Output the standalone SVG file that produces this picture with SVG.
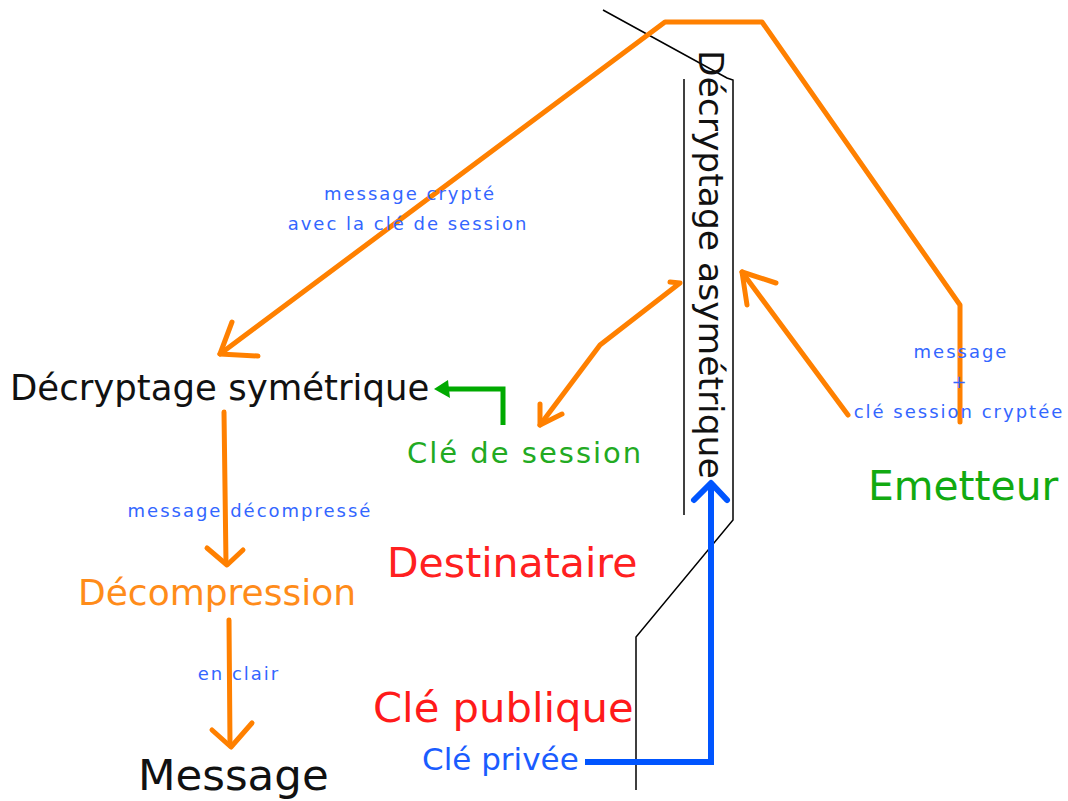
<svg xmlns="http://www.w3.org/2000/svg" width="1068" height="801" viewBox="0 0 1068 801">
<style>
.o{fill:none;stroke:#ff8000;stroke-width:5;stroke-linejoin:round;stroke-linecap:round}
.k{fill:none;stroke:#000;stroke-width:1.5}
.t{font-family:"DejaVu Sans",sans-serif}
.lb{font-family:"DejaVu Sans",sans-serif;font-size:18px;fill:#3366ff;text-anchor:middle;letter-spacing:2px}
</style>
<rect width="1068" height="801" fill="#fff"/>
<g id="connectors">
<polyline class="k" points="603,10 727,78 733,80 733,520 636,637 636,790"/>
<line class="k" x1="684" y1="79" x2="684" y2="515"/>
<polyline class="o" points="220,354 665,22 762,22 960,305 960,422"/>
<polyline class="o" points="232,322 220,354 258,356"/>
<polyline class="o" points="848,415 742,272"/>
<polyline class="o" points="776,283 742,272 747,305"/>
<polyline class="o" points="670,282 680,283 600,345 540,425"/>
<polyline class="o" points="540,404 540,425 562,414"/>
<polyline class="o" points="224,412 226,563"/>
<polyline class="o" points="207,548 227,565 243,550"/>
<polyline class="o" points="229,620 230,745"/>
<polyline class="o" points="212,730 231,747 252,723"/>
<polyline fill="none" stroke="#00aa00" stroke-width="5" points="503,425 503,389 445,389"/>
<polygon fill="#00aa00" points="434,389 448,380 450,398"/>
<polyline fill="none" stroke="#0055ff" stroke-width="6" points="585,762 711,762 711,484"/>
<polyline fill="none" stroke="#0055ff" stroke-width="6" stroke-linejoin="round" stroke-linecap="round" points="694,500 711,483 727,500"/>
</g>
<g id="asym"><text class="t" font-size="34.5" fill="#111" transform="translate(699,50) rotate(90)">Décryptage asymétrique</text></g>
<g id="sym"><text class="t" x="10" y="400" font-size="35.5" fill="#111">Décryptage symétrique</text></g>
<g id="cle-session"><text class="t" x="407" y="463" font-size="29" fill="#22aa22" letter-spacing="2">Clé de session</text></g>
<g id="destinataire"><text class="t" x="387" y="577" font-size="41" fill="#ff2020">Destinataire</text></g>
<g id="emetteur"><text class="t" x="868" y="500" font-size="40.8" fill="#11aa11">Emetteur</text></g>
<g id="decompression"><text class="t" x="78" y="605" font-size="36" fill="#ff8c1a">Décompression</text></g>
<g id="message"><text class="t" x="138" y="790" font-size="43.5" fill="#111">Message</text></g>
<g id="cle-publique"><text class="t" x="373" y="722" font-size="41.7" fill="#ff1a1a">Clé publique</text></g>
<g id="cle-privee"><text class="t" x="422" y="770" font-size="31" fill="#1a5cff">Clé privée</text></g>
<g id="labels">
<text class="lb" x="410" y="200">message crypté</text>
<text class="lb" x="408" y="230">avec la clé de session</text>
<text class="lb" x="250" y="517" letter-spacing="2.5">message décompressé</text>
<text class="lb" x="239" y="680">en clair</text>
<text class="lb" x="961" y="358">message</text>
<text class="lb" x="960" y="388">+</text>
<text class="lb" x="959" y="418">clé session cryptée</text>
</g>
</svg>
